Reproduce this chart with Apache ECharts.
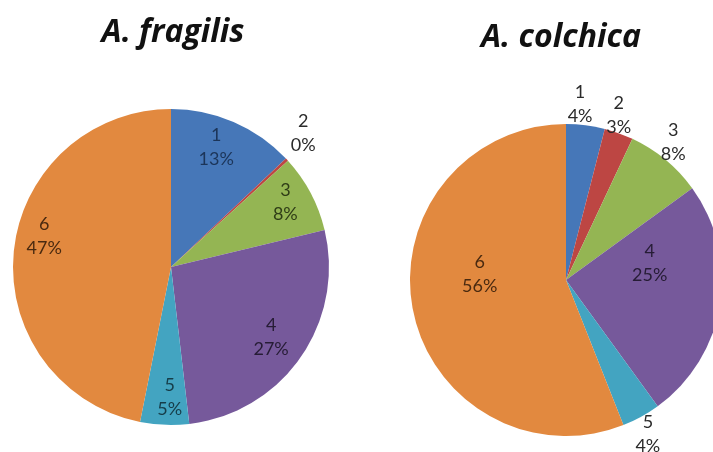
<!DOCTYPE html>
<html>
<head>
<meta charset="utf-8">
<title>A. fragilis / A. colchica</title>
<script src="https://cdn.jsdelivr.net/npm/echarts@6/dist/echarts.min.js"></script>
<style>
  html, body { margin: 0; padding: 0; background: #ffffff; }
  #chart { width: 713px; height: 452px; }
</style>
</head>
<body>
<div id="chart"></div>
<script>
// Category labels shared by both pies
const categories = ['1', '2', '3', '4', '5', '6'];

// Shares per category (percent)
const fragilisValues = [13, 0.3, 8, 27, 5, 47];
const colchicaValues = [4, 3, 8, 25, 4, 56];

// Pie titles
const titles = ['A. fragilis', 'A. colchica'];

// Slice fills and the darker ink used for labels sitting on them
const sliceColors = ['#4677b8', '#bd4643', '#94b553', '#76599b', '#43a4c1', '#e2893f'];
const insideInk = ['#1c3559', '#4a1a18', '#2f3d17', '#261c35', '#163d49', '#4a2a10'];
const outsideInk = '#2b2b2b';

const LABEL_FONT = 'Lato, "Open Sans", sans-serif';
const TITLE_FONT = '"Open Sans", Lato, sans-serif';

// Geometry and label placement for each pie
const pies = [
  {
    center: [171, 267], r: 158,
    inRing: [0.6, 1.0], outRing: [1.0, 1.38],
    outside: [1],
    nudge: { 0: [-6, -1], 1: [-8, -4], 2: [0, -4], 3: [-6, -4], 4: [4, 1], 5: [2, -18] }
  },
  {
    center: [566, 280], r: 156,
    inRing: [0, 1.1], outRing: [1.0, 1.22],
    outside: [0, 1, 2, 4],
    nudge: { 0: [-8, -1], 1: [-7, 1], 2: [-5, -2], 3: [-4, -31], 4: [-3, 0], 5: [1, -22] }
  }
];

const valueSets = [fragilisValues, colchicaValues];

function sliceData(values) {
  return categories.map((name, i) => ({
    name,
    value: values[i],
    itemStyle: { color: sliceColors[i] }
  }));
}

// A transparent ring that only carries the labels of the chosen slices
function labelRing(values, pie, ringFrac, outsideSet) {
  return {
    type: 'pie',
    silent: true,
    center: pie.center,
    radius: [pie.r * ringFrac[0], pie.r * ringFrac[1]],
    startAngle: 90,
    clockwise: true,
    percentPrecision: 0,
    avoidLabelOverlap: false,
    animation: false,
    emphasis: { disabled: true },
    labelLine: { show: false },
    itemStyle: { color: 'rgba(0,0,0,0)', borderWidth: 0 },
    data: categories.map((name, i) => {
      const isOut = pie.outside.indexOf(i) >= 0;
      const show = outsideSet ? isOut : !isOut;
      const nudge = pie.nudge[i] || [0, 0];
      return {
        name,
        value: values[i],
        label: {
          show,
          position: 'inside',
          formatter: '{b}\n{d}%',
          color: isOut ? outsideInk : insideInk[i],
          fontFamily: LABEL_FONT,
          fontSize: 18,
          lineHeight: 24,
          align: 'center',
          offset: nudge
        }
      };
    })
  };
}

const series = [];
pies.forEach((pie, k) => {
  const values = valueSets[k];
  series.push({
    type: 'pie',
    center: pie.center,
    radius: pie.r,
    startAngle: 90,
    clockwise: true,
    animation: false,
    label: { show: false },
    labelLine: { show: false },
    emphasis: { disabled: true },
    itemStyle: { borderWidth: 0 },
    data: sliceData(values)
  });
  series.push(labelRing(values, pie, pie.inRing, false));
  series.push(labelRing(values, pie, pie.outRing, true));
});

const titleStyle = {
  fontFamily: TITLE_FONT, fontSize: 32, fontWeight: 'bold', fontStyle: 'italic', color: '#111'
};

const chart = echarts.init(document.getElementById('chart'), null, { renderer: 'canvas' });
chart.setOption({
  backgroundColor: '#ffffff',
  animation: false,
  title: [
    { text: titles[0], left: 168, top: 12, textAlign: 'center', textStyle: titleStyle },
    { text: titles[1], left: 556, top: 17, textAlign: 'center', textStyle: titleStyle }
  ],
  series
});
</script>
</body>
</html>
